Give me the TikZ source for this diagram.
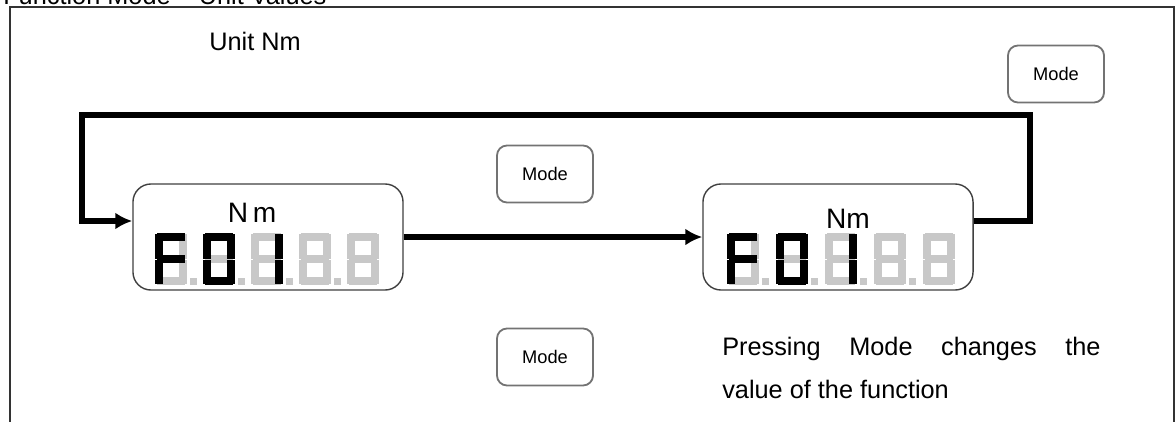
\documentclass[tikz,border=0pt]{standalone}
\usepackage{fontspec}
\setmainfont{Liberation Sans}
\usepackage{tikz}
\usetikzlibrary{shapes,arrows.meta}
\definecolor{lcdgray}{RGB}{200,200,200}
\tikzstyle{display} = [rectangle, draw=black!75, line width=1pt, fill=white,
    rounded corners=0.45cm, minimum width=6.75cm, minimum height=2.65cm]
\tikzstyle{modekey} = [rectangle, draw=black!55, line width=1.3pt, fill=white,
    rounded corners=0.25cm, minimum width=2.4cm, minimum height=1.425cm,
    font=\fontsize{13}{15}\selectfont]
\tikzstyle{unitlabel} = [inner sep=0pt, font=\fontsize{20}{22}\selectfont]
\tikzstyle{arrow} = [draw, -{Latex[length=12pt,width=12pt]}, line width=3.7pt]
\tikzstyle{frame} = [draw, black!80, line width=1.4pt]
\tikzstyle{lcdoff} = [fill=lcdgray]
\tikzstyle{lcdon} = [fill=black]

% segments of one digit, 32 x 52 px
\def\lcdsega{(2,0) rectangle (30,8)}
\def\lcdsegb{(24,1) rectangle (32,25.5)}
\def\lcdsegc{(24,26.5) rectangle (32,51)}
\def\lcdsegd{(2,44) rectangle (30,52)}
\def\lcdsege{(0,26.5) rectangle (8,51)}
\def\lcdsegf{(0,1) rectangle (8,25.5)}
\def\lcdsegg{(2,22) rectangle (30,30)}
\newcommand{\lcdeight}[3]{% x, y, draw dot (1/0)
  \begin{scope}[shift={(#1,#2)}]
    \foreach \s in {a,b,c,d,e,f,g} \fill[lcdoff] \csname lcdseg\s\endcsname;
    \ifnum#3=1 \fill[lcdoff] (35,45) rectangle (42,52); \fi
  \end{scope}}
\newcommand{\lcdlit}[3]{% x, y, lit segments
  \begin{scope}[shift={(#1,#2)}]
    \foreach \s in {#3} \fill[lcdon] \csname lcdseg\s\endcsname;
  \end{scope}}

\begin{document}
\begin{tikzpicture}[x=0.025cm, y=-0.025cm]
    \useasboundingbox (0,0) rectangle (1176,421);
    % frame and heading
    \node [anchor=base west, inner sep=0pt, font=\fontsize{18}{20}\selectfont] (title) at (3,4) {Function Mode -- Unit Values};
    \path [frame] (10,440) -- (10,7) -- (1174,7) -- (1174,440);
    \node [inner sep=0pt, font=\fontsize{18}{20}\selectfont] (unitNm) at (255,41) {Unit Nm};
    % Place nodes
    \node [display] (leftDisp) at (268,237) {};
    \node [display] (rightDisp) at (838,237) {};
    \node [unitlabel] (leftUnit) at (252,213) {N\,m};
    \node [unitlabel] (rightUnit) at (848,219) {Nm};
%
    \node [modekey] (modeTop) at (545,174) {Mode};
    \node [modekey] (modeBottom) at (545,357) {Mode};
    \node [modekey] (modeLoop) at (1056,74) {Mode};
    % digits
    \foreach \i in {0,...,4} {
      \pgfmathtruncatemacro{\dot}{\i<4 ? 1 : 0}
      \lcdeight{155+48*\i}{233}{\dot}
      \lcdeight{727+49*\i}{233}{\dot}
    }
    \lcdlit{155}{233}{a,f,g,e}
    \lcdlit{203}{233}{a,b,c,d,e,f}
    \lcdlit{251}{233}{b,c}
    \lcdlit{727}{233}{a,f,g,e}
    \lcdlit{776}{233}{a,b,c,d,e,f}
    \lcdlit{825}{233}{b,c}
    % connectors
    \coordinate (loopRight) at (1030,115);
    \coordinate (loopLeft) at (82,115);
    \path [arrow] (leftDisp.east) -- (rightDisp.west);
    \path [arrow] ([yshift=0.4cm]rightDisp.east) -| (loopRight) -- (loopLeft) |- ([yshift=0.4cm]leftDisp.west);
    % note
    \node [anchor=north west, inner sep=0pt, text width=269pt, align=justify,
        font=\fontsize{18}{30.5}\selectfont] (note) at (722,337)
        {Pressing Mode changes the\linebreak value of the function};
\end{tikzpicture}
\end{document}
